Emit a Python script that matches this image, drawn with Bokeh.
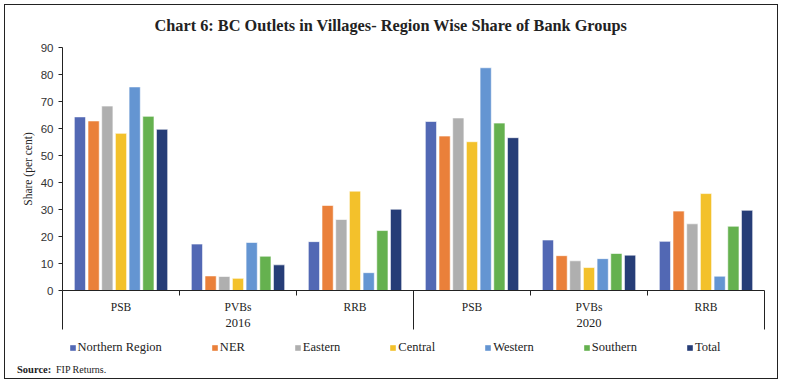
from bokeh.plotting import figure
from bokeh.layouts import column
from bokeh.models import (ColumnDataSource, Range1d, LinearAxis, FixedTicker,
                          Legend, LegendItem, Label)
from bokeh.transform import dodge
from bokeh.embed import file_html
from bokeh.resources import INLINE

# ---- data ----
years = ["2016", "2020"]
banks = ["PSB", "PVBs", "RRB"]
series = ["Northern Region", "NER", "Eastern", "Central", "Western", "Southern", "Total"]
colors = ["#5268B4", "#EA803A", "#AFAFAF", "#F3C12B", "#6495D2", "#65B14F", "#263D77"]

# values per group: 2016 PSB, PVBs, RRB, 2020 PSB, PVBs, RRB
northern = [64.3, 17.2, 18.1, 62.6, 18.7, 18.2]
ner      = [62.8, 5.4, 31.5, 57.2, 12.9, 29.4]
eastern  = [68.3, 5.2, 26.3, 63.9, 11.0, 24.7]
central  = [58.2, 4.5, 36.8, 55.1, 8.5, 35.9]
western  = [75.4, 17.8, 6.6, 82.5, 11.8, 5.3]
southern = [64.5, 12.7, 22.2, 62.0, 13.7, 23.8]
total    = [59.7, 9.5, 30.1, 56.6, 13.1, 29.7]
values = [northern, ner, eastern, central, western, southern, total]

title_text = "Chart 6: BC Outlets in Villages- Region Wise Share of Bank Groups"

n_groups = len(years) * len(banks)
centers = [i + 0.5 for i in range(n_groups)]
bounds = list(range(n_groups + 1))

SERIF = "Liberation Serif"
SANS = "Liberation Sans"
INK = "#222222"
W = 772


def bare(height):
    fig = figure(width=W, height=height, output_backend="svg", toolbar_location=None,
                 x_range=Range1d(0, W), y_range=Range1d(height, 0),
                 x_axis_location=None, y_axis_location=None,
                 min_border=0, outline_line_color=None, title=None)
    fig.frame_align = False
    fig.xgrid.visible = False
    fig.ygrid.visible = False
    return fig


# header: title
HH = 34
h = bare(HH)
h.add_layout(Label(x=385.5, y=19.5, text=title_text, text_align="center",
                   text_baseline="middle", text_font=SERIF, text_font_size="16.3px",
                   text_font_style="bold", text_color=INK))

# main chart
p = figure(width=W, height=292, output_backend="svg", toolbar_location=None,
           x_range=Range1d(0, n_groups), y_range=Range1d(0, 90), title=None,
           x_axis_location=None, y_axis_location="left",
           min_border_left=57, min_border_right=13, min_border_top=8,
           min_border_bottom=41)
p.frame_align = False
p.xgrid.visible = False
p.ygrid.visible = False
p.outline_line_color = None

src = ColumnDataSource(dict(x=centers, **{f"s{j}": v for j, v in enumerate(values)}))
step = 0.117
for j, name in enumerate(series):
    p.vbar(x=dodge("x", (j - 3) * step, range=p.x_range), top=f"s{j}", width=0.096,
           source=src, fill_color=colors[j], line_color="white", line_width=0.6)

# y axis
ya = p.yaxis[0]
ya.ticker = FixedTicker(ticks=list(range(0, 91, 10)))
ya.bounds = (0, 90)
ya.axis_label = "Share (per cent)"
ya.axis_label_text_font = SERIF
ya.axis_label_text_font_style = "normal"
ya.axis_label_text_font_size = "11.5px"
ya.axis_label_text_color = INK
ya.axis_label_standoff = 4
ya.major_label_text_font = SANS
ya.major_label_text_font_size = "11.5px"
ya.major_label_text_color = "#333333"
ya.major_label_standoff = 5
ya.major_tick_in = 0
ya.major_tick_out = 4
ya.minor_tick_out = 0
ya.minor_tick_in = 0
ya.axis_line_color = INK
ya.major_tick_line_color = INK

# x axis A: bank categories
cat_labels = {c: banks[i % len(banks)] for i, c in enumerate(centers)}
axA = LinearAxis(ticker=FixedTicker(ticks=centers, minor_ticks=bounds),
                 major_label_overrides=cat_labels)
axA.major_tick_out = 0
axA.major_tick_in = 0
axA.minor_tick_out = 5
axA.minor_tick_in = 0
axA.major_label_standoff = 5
axA.major_label_text_font = SERIF
axA.major_label_text_font_size = "11.5px"
axA.major_label_text_color = INK
axA.axis_line_color = INK
axA.minor_tick_line_color = INK
p.add_layout(axA, "below")

# x axis B: years
yc = [len(banks) * (k + 0.5) for k in range(len(years))]
yb = [len(banks) * k for k in range(len(years) + 1)]
axB = LinearAxis(ticker=FixedTicker(ticks=yc, minor_ticks=yb),
                 major_label_overrides={c: years[k] for k, c in enumerate(yc)})
axB.axis_line_color = None
axB.major_tick_out = 0
axB.major_tick_in = 0
axB.minor_tick_in = 24
axB.minor_tick_out = 14
axB.minor_tick_line_color = INK
axB.major_label_standoff = -11
axB.major_label_text_font = SERIF
axB.major_label_text_font_size = "12.5px"
axB.major_label_text_color = INK
p.add_layout(axB, "below")

# footer: legend + source
FH = 47
f = bare(FH)
items = []
for j, s in enumerate(series):
    # zero-width bars: nothing visible in the footer, only the legend swatch
    r = f.vbar(x="x", top=f"s{j}", width=0, source=src,
               fill_color=colors[j], line_color=None)
    items.append(LegendItem(label=s, renderers=[r]))
legend = Legend(items=items, orientation="horizontal", location=(63.5, 23),
                label_text_font=SERIF, label_text_font_size="12.5px", label_text_color=INK,
                glyph_width=7, glyph_height=7, label_standoff=2, spacing=49,
                label_height=14, padding=0, margin=0, border_line_color=None,
                background_fill_alpha=0)
f.add_layout(legend, "center")
f.add_layout(Label(x=11.5, y=38, text="Source:", text_baseline="middle",
                   text_font=SERIF, text_font_size="10.5px", text_font_style="bold",
                   text_color=INK))
f.add_layout(Label(x=50.5, y=38, text="FIP Returns.", text_baseline="middle",
                   text_font=SERIF, text_font_size="10px", text_color=INK))

layout = column(h, p, f, spacing=0, styles={"border": "1.5px solid #222", "margin": "4px"})

open("out.html", "w").write(file_html(layout, INLINE))
